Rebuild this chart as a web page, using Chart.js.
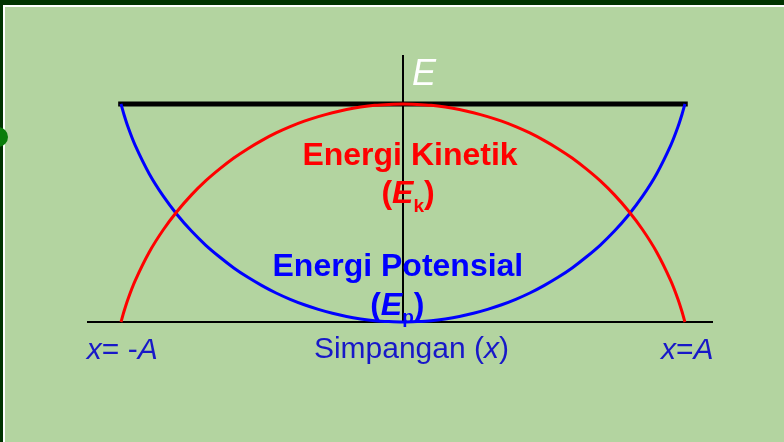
<!DOCTYPE html>
<html>
<head>
<meta charset="utf-8">
<script src="https://cdn.jsdelivr.net/npm/chart.js@4.4.1/dist/chart.umd.min.js"></script>
<style>
  body { margin: 0; background: #003300; width: 784px; height: 442px; overflow: hidden; }
  #frame { position: absolute; left: 3px; top: 5px; width: 781px; height: 437px;
           background: #b3d4a0; border-top: 2px solid #fff; border-left: 2px solid #fff; }
  #bullet { position: absolute; left: -12px; top: 127px; width: 20px; height: 20px;
            border-radius: 50%; background: #0a7d0a; }
  canvas { position: absolute; left: 0; top: 0; }
</style>
</head>
<body>
<div id="frame"></div>
<div id="bullet"></div>
<canvas id="energyChart" width="784" height="442"></canvas>
<script>
// displacement x (in units of amplitude A)
const positions = [-1, -0.99, -0.975, -0.95, -0.9, -0.85, -0.8, -0.75, -0.7, -0.65, -0.6,
  -0.55, -0.5, -0.45, -0.4, -0.35, -0.3, -0.25, -0.2, -0.15, -0.1, -0.05, 0,
  0.05, 0.1, 0.15, 0.2, 0.25, 0.3, 0.35, 0.4, 0.45, 0.5, 0.55, 0.6,
  0.65, 0.7, 0.75, 0.8, 0.85, 0.9, 0.95, 0.975, 0.99, 1];
// kinetic energy (fraction of E)
const kinetic = [0, 0.046, 0.106, 0.189, 0.32, 0.423, 0.509, 0.583, 0.647, 0.702, 0.752,
  0.795, 0.833, 0.867, 0.896, 0.921, 0.942, 0.96, 0.975, 0.986, 0.994, 0.998, 1,
  0.998, 0.994, 0.986, 0.975, 0.96, 0.942, 0.921, 0.896, 0.867, 0.833, 0.795, 0.752,
  0.702, 0.647, 0.583, 0.509, 0.423, 0.32, 0.189, 0.106, 0.046, 0];
// potential energy (fraction of E)
const potential = [1, 0.954, 0.894, 0.811, 0.68, 0.577, 0.491, 0.417, 0.353, 0.298, 0.248,
  0.205, 0.167, 0.133, 0.104, 0.079, 0.058, 0.04, 0.025, 0.014, 0.006, 0.002, 0,
  0.002, 0.006, 0.014, 0.025, 0.04, 0.058, 0.079, 0.104, 0.133, 0.167, 0.205, 0.248,
  0.298, 0.353, 0.417, 0.491, 0.577, 0.68, 0.811, 0.894, 0.954, 1];
// total energy line
const totalX = [-1.01, 1.01];
const totalE = [1, 1];

const toPoints = (xs, ys) => xs.map((x, i) => ({ x: x, y: ys[i] }));

const FONT = '"Liberation Sans", Arial, sans-serif';

// text runs: [text, style, size, baseline shift]
const labels = [
  { x: 0.032, y: 1.087, align: "left", color: "#ffffff",
    runs: [["E", "italic", 36, 0]] },
  { x: 0.025, y: 0.72, align: "center", color: "#ff0000",
    runs: [["Energi Kinetik", "bold", 32, 0]] },
  { x: 0.018, y: 0.546, align: "center", color: "#ff0000",
    runs: [["(", "bold", 32, 0], ["E", "italic bold", 32, 0], ["k", "bold", 19, 9], [")", "bold", 32, 0]] },
  { x: -0.018, y: 0.211, align: "center", color: "#0000ff",
    runs: [["Energi Potensial", "bold", 32, 0]] },
  { x: -0.02, y: 0.032, align: "center", color: "#0000ff",
    runs: [["(", "bold", 32, 0], ["E", "italic bold", 32, 0], ["p", "bold", 19, 8], [")", "bold", 32, 0]] },
  { x: 0.03, y: -0.165, align: "center", color: "#1818c8",
    runs: [["Simpangan (", "", 30, 0], ["x", "italic", 30, 0], [")", "", 30, 0]] },
  { x: -1.121, y: -0.17, align: "left", color: "#1818c8",
    runs: [["x", "italic", 30, 0], ["= -", "", 30, 0], ["A", "italic", 30, 0]] },
  { x: 0.915, y: -0.17, align: "left", color: "#1818c8",
    runs: [["x", "italic", 30, 0], ["=", "", 30, 0], ["A", "italic", 30, 0]] }
];

const labelPlugin = {
  id: "labels",
  afterDraw(chart) {
    const ctx = chart.ctx;
    const sx = chart.scales.x, sy = chart.scales.y;
    ctx.save();
    ctx.textBaseline = "alphabetic";
    ctx.textAlign = "left";
    labels.forEach(function (lb) {
      let total = 0;
      lb.runs.forEach(function (r) {
        ctx.font = r[1] + " " + r[2] + "px " + FONT;
        total += ctx.measureText(r[0]).width;
      });
      let px = sx.getPixelForValue(lb.x);
      const py = sy.getPixelForValue(lb.y);
      if (lb.align === "center") px -= total / 2;
      ctx.fillStyle = lb.color;
      lb.runs.forEach(function (r) {
        ctx.font = r[1] + " " + r[2] + "px " + FONT;
        ctx.fillText(r[0], px, py + r[3]);
        px += ctx.measureText(r[0]).width;
      });
    });
    ctx.restore();
  }
};

const canvas = document.getElementById("energyChart");
const ctx = canvas.getContext("2d");

new Chart(ctx, {
  type: "line",
  data: {
    datasets: [
      {
        label: "Energi Kinetik",
        data: toPoints(positions, kinetic),
        borderColor: "#ff0000",
        borderWidth: 3,
        pointRadius: 0,
        tension: 0.2,
        clip: false
      },
      {
        label: "Energi Potensial",
        data: toPoints(positions, potential),
        borderColor: "#0000ff",
        borderWidth: 3,
        pointRadius: 0,
        tension: 0.2,
        clip: false
      },
      {
        label: "E",
        data: toPoints(totalX, totalE),
        borderColor: "#000000",
        borderWidth: 5,
        pointRadius: 0,
        clip: false
      }
    ]
  },
  options: {
    responsive: false,
    animation: false,
    layout: { padding: { left: 88, right: 72, top: 56, bottom: 120 } },
    plugins: { legend: { display: false }, tooltip: { enabled: false } },
    scales: {
      x: {
        type: "linear",
        min: -1.117,
        max: 1.096,
        position: { y: 0 },
        ticks: { display: false },
        grid: { display: false },
        border: { color: "#000000", width: 2 }
      },
      y: {
        type: "linear",
        min: 0,
        max: 1.22,
        position: { x: 0 },
        ticks: { display: false },
        grid: { display: false },
        border: { color: "#000000", width: 2 }
      }
    }
  },
  plugins: [labelPlugin]
});
</script>
</body>
</html>
